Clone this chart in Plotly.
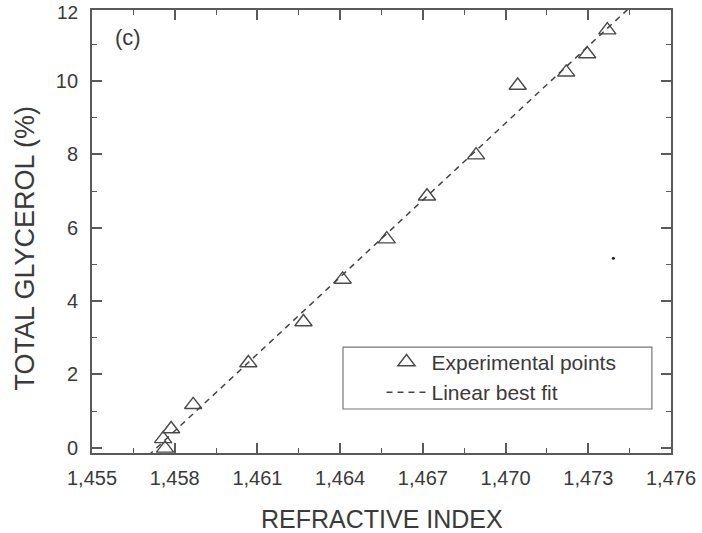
import numpy as np
import plotly.graph_objects as go

# ---- data ----
refractive_index = [1.45758, 1.45765, 1.45787, 1.45867, 1.46067, 1.46267, 1.46409,
                    1.46569, 1.46715, 1.46893, 1.47044, 1.47220, 1.47296, 1.47369]
total_glycerol = [0.24, -0.02, 0.51, 1.17, 2.31, 3.43, 4.59,
                  5.69, 6.86, 7.98, 9.88, 10.24, 10.74, 11.39]
fit_slope = 700.0
fit_intercept = -1020.145
stray_x = [1.47391]
stray_y = [5.17]

x_range = [1.455, 1.476]
y_range = [-0.145, 11.94]
x_tickvals = [1.455, 1.458, 1.461, 1.464, 1.467, 1.470, 1.473, 1.476]
x_ticktext = ["1,455", "1,458", "1,461", "1,464", "1,467", "1,470", "1,473", "1,476"]
y_tickvals = [0, 2, 4, 6, 8, 10]
y_clipped_label = 12

fit_x = np.array(x_range)
fit_y = fit_slope * fit_x + fit_intercept

INK = "#3a3a3a"
AXC = "#5a5a5a"
FONT = "Liberation Sans, Arial, sans-serif"

fig = go.Figure()
fig.add_trace(go.Scatter(
    x=refractive_index, y=total_glycerol, mode="markers",
    name="Experimental points",
    marker=dict(symbol="triangle-up-open", size=15, color="#4a4a4a",
                line=dict(width=1.4, color="#4a4a4a")),
    cliponaxis=True,
))
fig.add_trace(go.Scatter(
    x=fit_x, y=fit_y, mode="lines", name="Linear best fit",
    line=dict(color="#444444", width=1.5, dash="6px,5px"),
))
fig.add_trace(go.Scatter(
    x=stray_x, y=stray_y, mode="markers", showlegend=False,
    marker=dict(size=3, color="#222222"), hoverinfo="skip",
))

axis_common = dict(
    showline=True, linecolor=AXC, linewidth=1.8, mirror="ticks",
    ticks="inside", ticklen=10, tickwidth=1.5, tickcolor=AXC,
    showgrid=False, zeroline=False, automargin=False,
    tickfont=dict(family=FONT, size=20, color=INK),
)

fig.update_xaxes(
    range=x_range, tickvals=x_tickvals, ticktext=x_ticktext,
    minor=dict(ticks="inside", ticklen=5, tickwidth=1.3, tickcolor=AXC, dtick=0.0015, tick0=1.455),
    ticklabelstandoff=6,
    **axis_common,
)
fig.update_yaxes(
    range=y_range, tickvals=y_tickvals,
    minor=dict(ticks="inside", ticklen=5, tickwidth=1.3, tickcolor=AXC, dtick=1, tick0=0),
    ticklabelstandoff=8,
    **axis_common,
)

# axis titles
fig.add_annotation(x=0.5017, y=-0.149, xref="paper", yref="paper", text="REFRACTIVE INDEX",
                   showarrow=False, font=dict(family=FONT, size=25, color=INK),
                   xanchor="center", yanchor="middle")
fig.add_annotation(x=0, y=0.4616, xref="paper", yref="paper", text="TOTAL GLYCEROL (%)",
                   textangle=-90, showarrow=False,
                   font=dict(family=FONT, size=27, color=INK),
                   xanchor="center", yanchor="middle", xshift=-67)

fig.add_annotation(x=0.062, y=0.939, xref="paper", yref="paper", text="(c)",
                   showarrow=False, font=dict(family=FONT, size=22, color=INK),
                   xanchor="center", yanchor="middle")
# the "12" tick label sits at the very top edge, just above the frame
fig.add_annotation(x=0, y=1.02, xref="paper", yref="paper", text=str(y_clipped_label),
                   showarrow=False, font=dict(family=FONT, size=19, color=INK),
                   xanchor="right", yanchor="top", xshift=-13, borderpad=0)

# legend frame
fig.add_shape(type="rect", xref="paper", yref="paper",
              x0=0.4335, x1=0.967, y0=0.0993, y1=0.239,
              line=dict(color="#777777", width=1.2), fillcolor="rgba(0,0,0,0)")

fig.update_layout(
    width=702, height=533,
    margin=dict(l=92, r=31, t=10, b=80),
    paper_bgcolor="white", plot_bgcolor="white",
    showlegend=True,
    legend=dict(x=0.50, y=0.251, xanchor="left", yanchor="top",
                bgcolor="rgba(0,0,0,0)", borderwidth=0,
                font=dict(family=FONT, size=21, color=INK),
                itemwidth=40),
    font=dict(family=FONT, color=INK),
)

fig.write_html("out.html")
